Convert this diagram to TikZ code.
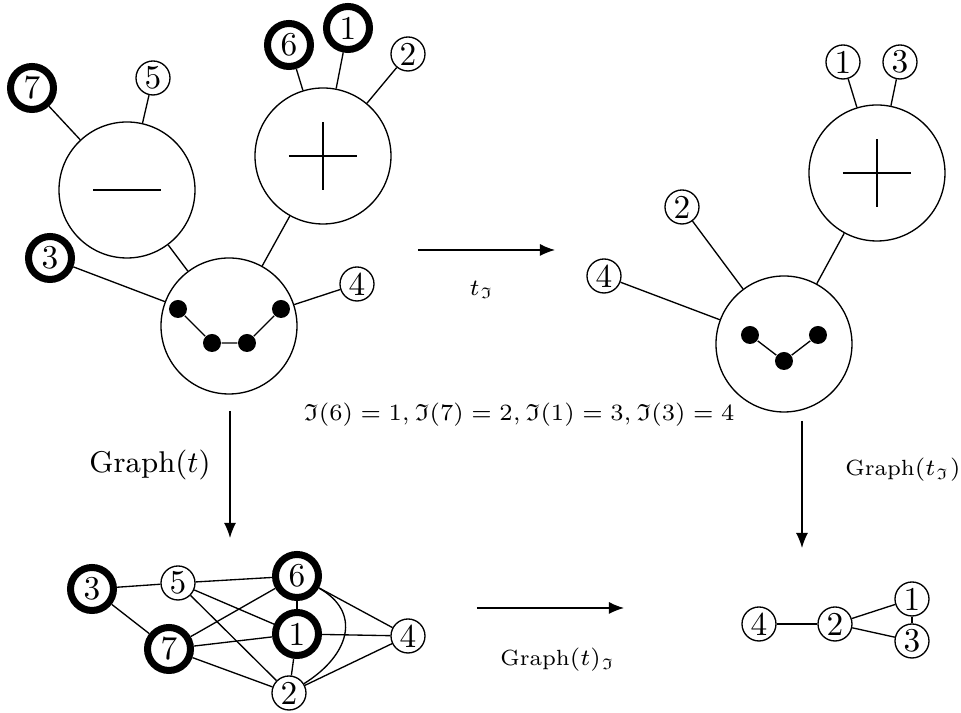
\documentclass[tikz,border=0pt]{standalone}
\usepackage{amssymb}
\usetikzlibrary{arrows.meta}
\begin{document}
\begin{tikzpicture}[x=0.3pt,y=-0.3pt,
 leaf/.style={circle,draw,inner sep=0pt,minimum size=10.2pt,font=\normalsize},
 bleaf/.style={circle,draw,line width=2.1pt,inner sep=0pt,minimum size=12.9pt,font=\normalsize},
 big/.style={circle,draw,inner sep=0pt,minimum size=40.8pt},
 dot/.style={circle,fill,inner sep=0pt,minimum size=5.4pt},
 arr/.style={-{Latex[length=4.5pt,width=3.6pt]}},
 lbl/.style={font=\small,inner sep=0pt},
 slbl/.style={font=\fontsize{6.6}{8}\selectfont,inner sep=0pt},
 mlbl/.style={font=\fontsize{7}{8.5}\selectfont,inner sep=0pt}]
\useasboundingbox (0,0) rectangle (961,713);

% ---------- top-left tree ----------
\node[big] (m) at (127,190) {};
\node[big] (p) at (323,156) {};
\node[big] (r) at (229,326) {};
\draw ([xshift=-10.2pt]m.center) -- ([xshift=10.2pt]m.center);
\draw ([xshift=-10.2pt]p.center) -- ([xshift=10.2pt]p.center);
\draw ([yshift=-10.2pt]p.center) -- ([yshift=10.2pt]p.center);
\node[dot] (d1) at (178,309) {};
\node[dot] (d2) at (212,343) {};
\node[dot] (d3) at (247,343) {};
\node[dot] (d4) at (281,309) {};
\draw (d1) -- (d2) -- (d3) -- (d4);

\node[bleaf] (a7) at (32,88) {7};
\node[leaf]  (a5) at (153,78) {5};
\node[bleaf] (a6) at (289,45) {6};
\node[bleaf] (a1) at (348,28) {1};
\node[leaf]  (a2) at (408,54) {2};
\node[bleaf] (a3) at (50,258) {3};
\node[leaf]  (a4) at (357,284) {4};
\draw (a7) -- (m);
\draw (a5) -- (m);
\draw (a6) -- (p);
\draw (a1) -- (p);
\draw (a2) -- (p);
\draw (m) -- (r);
\draw (p) -- (r);
\draw (a3) -- (r);
\draw (a4) -- (r);

% ---------- top-right tree ----------
\node[big] (P) at (877,173) {};
\node[big] (R) at (784,344) {};
\draw ([xshift=-10.2pt]P.center) -- ([xshift=10.2pt]P.center);
\draw ([yshift=-10.2pt]P.center) -- ([yshift=10.2pt]P.center);
\node[dot] (e1) at (750,335) {};
\node[dot] (e2) at (784,361) {};
\node[dot] (e3) at (818,335) {};
\draw (e1) -- (e2) -- (e3);
\node[leaf] (b1) at (843,62) {1};
\node[leaf] (b3) at (900,62) {3};
\node[leaf] (b2) at (682,207) {2};
\node[leaf] (b4) at (604,276) {4};
\draw (b1) -- (P);
\draw (b3) -- (P);
\draw (P) -- (R);
\draw (b2) -- (R);
\draw (b4) -- (R);

% ---------- arrows and labels ----------
\coordinate (t1) at (418,250);
\coordinate (t2) at (555,250);
\draw[arr] (t1) -- (t2);
\node[slbl] (tl) at (482,290) {$t_{\mathfrak{I}}$};

\node[mlbl] (map) at (519,415) {$\mathfrak{I}(6)=1,\mathfrak{I}(7)=2,\mathfrak{I}(1)=3,\mathfrak{I}(3)=4$};

\coordinate (v1) at (230,411);
\coordinate (v2) at (230,538);
\draw[arr] (v1) -- (v2);
\node[lbl] (gl) at (150,465) {Graph$(t)$};

\coordinate (w1) at (802,421);
\coordinate (w2) at (802,548);
\draw[arr] (w1) -- (w2);
\node[slbl] (gr) at (903,470) {Graph$(t_{\mathfrak{I}})$};

\coordinate (h1) at (477,608);
\coordinate (h2) at (624,608);
\draw[arr] (h1) -- (h2);
\node[slbl] (gb) at (558,660) {Graph$(t)_{\mathfrak{I}}$};

% ---------- bottom-left graph ----------
\node[bleaf] (c3) at (92,589) {3};
\node[leaf]  (c5) at (178,583) {5};
\node[bleaf] (c6) at (297,576) {6};
\node[bleaf] (c1) at (297,634) {1};
\node[bleaf] (c7) at (169,649) {7};
\node[leaf]  (c2) at (289,693) {2};
\node[leaf]  (c4) at (408,636) {4};
\draw (c3) -- (c5);
\draw (c3) -- (c7);
\draw (c5) -- (c6);
\draw (c5) -- (c1);
\draw (c5) -- (c2);
\draw (c6) -- (c7);
\draw (c6) -- (c1);
\draw (c6) -- (c4);
\draw (c6) .. controls (362,612) and (350,655) .. (c2);
\draw (c1) -- (c7);
\draw (c1) -- (c4);
\draw (c1) -- (c2);
\draw (c7) -- (c2);
\draw (c2) -- (c4);

% ---------- bottom-right graph ----------
\node[leaf] (f4) at (759,624) {4};
\node[leaf] (f2) at (835,624) {2};
\node[leaf] (f1) at (912,599) {1};
\node[leaf] (f3) at (912,641) {3};
\draw (f4) -- (f2);
\draw (f2) -- (f1);
\draw (f2) -- (f3);
\draw (f1) -- (f3);
\end{tikzpicture}
\end{document}
